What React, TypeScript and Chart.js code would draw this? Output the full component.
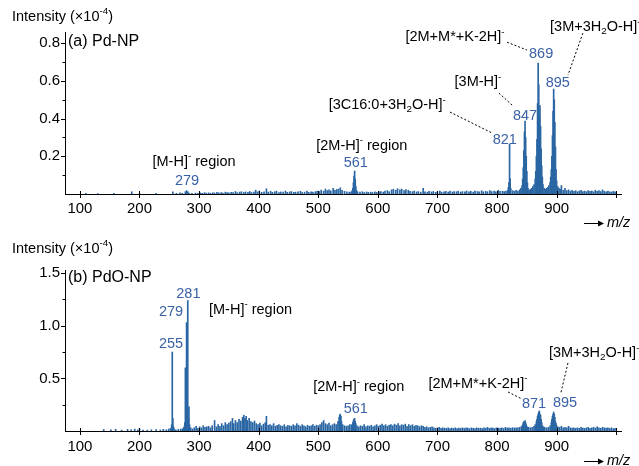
import React, { useEffect, useRef } from 'react';
import { Chart, registerables } from 'chart.js';
Chart.register(...registerables);

const FONT = "'Liberation Sans', Arial, Helvetica, sans-serif";
const BAR = '#2a66a3';
const NUM = '#3a62a6';

// ---------------- data: panel (a) Pd-NP ----------------
const mzA = [
  110, 130, 157, 187, 200, 228, 256, 262, 268, 272,
  277, 279, 281, 283, 288, 294, 298, 302, 305, 309,
  312, 316, 319, 323, 326, 330, 333, 337, 340, 344,
  347, 350, 354, 357, 361, 364, 368, 371, 375, 378,
  382, 385, 388, 392, 395, 398, 401, 405, 409, 413,
  416, 420, 423, 427, 430, 434, 437, 441, 445, 448,
  452, 455, 459, 462, 466, 470, 473, 477, 481, 484,
  488, 491, 495, 498, 502, 505, 509, 512, 515, 518,
  521, 525, 528, 531, 534, 537, 540, 544, 548, 552,
  555, 557, 558, 559, 560, 561, 562, 563, 564, 566,
  570, 574, 577, 581, 584, 588, 591, 595, 598, 602,
  605, 609, 612, 616, 619, 623, 626, 630, 633, 637,
  640, 644, 647, 651, 654, 658, 661, 665, 668, 672,
  676, 679, 683, 686, 690, 693, 697, 700, 704, 707,
  711, 714, 718, 721, 725, 728, 732, 735, 739, 742,
  746, 749, 753, 756, 760, 763, 767, 770, 774, 777,
  781, 784, 788, 791, 795, 798, 802, 805, 809, 812,
  815, 818, 819, 820, 821, 822, 823, 826, 829, 832,
  835, 838, 840, 842, 843, 844, 845, 846, 847, 848,
  849, 850, 851, 852, 854, 856, 858, 860, 862, 864,
  865, 866, 867, 868, 869, 870, 871, 872, 873, 874,
  875, 876, 877, 879, 881, 883, 885, 887, 889, 890,
  891, 892, 893, 894, 895, 896, 897, 898, 899, 900,
  902, 904, 906, 908, 911, 914, 917, 920, 923, 926,
  929, 932, 935, 938, 941, 944, 947, 950, 953, 956,
  959, 962, 965, 968, 971, 974, 977, 980, 983, 986,
  989, 992, 995, 998,
];
const intA = [
  .003, .002, .003, .012, .002, .003, .012, .004, .006, .004,
  .012, .018, .012, .005, .004, .005, .003, .006, .004, .007,
  .005, .006, .004, .007, .005, .009, .006, .008, .005, .010,
  .007, .006, .009, .008, .013, .007, .010, .012, .008, .011,
  .009, .013, .008, .010, .020, .011, .016, .009, .012, .028,
  .010, .014, .009, .012, .015, .008, .011, .010, .016, .009,
  .011, .013, .009, .010, .012, .014, .008, .010, .015, .009,
  .011, .010, .012, .016, .013, .021, .015, .026, .018, .022,
  .017, .030, .020, .024, .026, .033, .020, .014, .012, .010,
  .012, .018, .030, .060, .095, .122, .080, .040, .020, .012,
  .010, .012, .008, .011, .009, .010, .008, .012, .009, .011,
  .013, .010, .015, .018, .012, .022, .025, .020, .028, .022,
  .026, .018, .024, .020, .014, .012, .016, .011, .013, .010,
  .030, .012, .010, .014, .011, .013, .009, .012, .015, .010,
  .012, .014, .010, .016, .011, .013, .012, .015, .010, .013,
  .011, .016, .012, .014, .010, .015, .013, .011, .017, .012,
  .014, .012, .018, .013, .016, .012, .020, .014, .015, .013,
  .016, .020, .035, .060, .265, .080, .030, .018, .015, .020,
  .016, .022, .030, .045, .080, .140, .230, .330, .387, .300,
  .200, .120, .060, .030, .020, .025, .030, .040, .050, .080,
  .120, .200, .290, .480, .695, .580, .420, .470, .360, .240,
  .150, .090, .050, .030, .025, .030, .035, .045, .060, .090,
  .130, .200, .310, .440, .557, .500, .380, .250, .130, .070,
  .040, .030, .025, .045, .020, .030, .018, .022, .015, .020,
  .014, .018, .012, .016, .020, .013, .015, .012, .018, .014,
  .016, .012, .020, .014, .018, .013, .022, .015, .012, .016,
  .012, .010, .014, .011,
];

// ---------------- data: panel (b) PdO-NP ----------------
const mzB = [
  140, 152, 160, 170, 180, 186, 192, 197, 200, 206,
  213, 220, 228, 235, 240, 245, 249, 252, 254, 255,
  256, 257, 258, 261, 265, 269, 272, 274, 275, 276,
  277, 278, 279, 280, 281, 282, 283, 284, 286, 289,
  292, 295, 298, 301, 304, 307, 310, 313, 316, 319,
  322, 326, 329, 332, 335, 338, 341, 344, 347, 350,
  353, 356, 358, 361, 364, 367, 370, 373, 375, 377,
  379, 381, 384, 387, 390, 393, 396, 399, 402, 405,
  408, 411, 413, 416, 419, 422, 425, 428, 431, 434,
  437, 440, 443, 446, 449, 452, 455, 458, 461, 464,
  467, 470, 473, 476, 479, 482, 485, 488, 491, 494,
  497, 500, 503, 506, 509, 512, 515, 518, 521, 524,
  527, 530, 533, 535, 536, 537, 538, 539, 541, 544,
  547, 550, 553, 556, 558, 559, 560, 561, 562, 563,
  565, 568, 571, 574, 577, 580, 583, 586, 589, 592,
  595, 598, 601, 604, 607, 610, 613, 616, 619, 622,
  625, 628, 631, 634, 637, 640, 643, 646, 649, 652,
  655, 658, 661, 664, 667, 670, 673, 676, 679, 682,
  685, 688, 691, 694, 697, 700, 703, 706, 709, 712,
  715, 718, 721, 724, 727, 730, 733, 736, 739, 742,
  745, 748, 751, 754, 757, 760, 763, 766, 769, 772,
  775, 778, 781, 784, 787, 790, 793, 796, 799, 802,
  805, 808, 811, 814, 817, 820, 823, 826, 829, 832,
  835, 838, 841, 843, 844, 845, 846, 847, 848, 849,
  851, 853, 856, 859, 862, 864, 866, 867, 868, 869,
  870, 871, 872, 873, 874, 875, 876, 878, 880, 883,
  886, 889, 891, 892, 893, 894, 895, 896, 897, 898,
  899, 900, 902, 905, 908, 911, 914, 917, 920, 923,
  926, 929, 932, 935, 938, 941, 944, 947, 950, 953,
  956, 959, 962, 965, 968, 971, 974, 977, 980, 983,
  986, 989, 992, 995, 998,
];
const intB = [
  .014, .010, .016, .008, .015, .010, .018, .010, .020, .008,
  .008, .012, .014, .010, .016, .012, .018, .025, .060, .750,
  .120, .040, .020, .012, .015, .018, .020, .030, .040, .080,
  .600, .150, 1.030, .200, 1.240, .120, .230, .060, .030, .020,
  .030, .045, .025, .040, .030, .050, .035, .040, .045, .030,
  .050, .100, .040, .060, .045, .070, .050, .080, .060, .075,
  .090, .120, .070, .100, .080, .110, .095, .130, .150, .120,
  .140, .100, .120, .090, .080, .095, .070, .060, .075, .050,
  .065, .080, .140, .055, .060, .050, .070, .045, .055, .060,
  .050, .045, .060, .040, .055, .050, .045, .060, .050, .070,
  .055, .045, .060, .050, .040, .055, .045, .050, .060, .045,
  .055, .050, .060, .080, .100, .070, .060, .075, .050, .060,
  .070, .060, .090, .130, .150, .160, .140, .090, .060, .050,
  .045, .050, .060, .060, .080, .100, .110, .120, .090, .070,
  .050, .040, .050, .045, .060, .040, .050, .045, .055, .040,
  .050, .060, .045, .055, .065, .050, .060, .045, .055, .060,
  .050, .065, .055, .070, .050, .060, .055, .065, .045, .060,
  .050, .060, .045, .055, .050, .040, .050, .045, .035, .040,
  .030, .035, .040, .030, .025, .030, .035, .025, .030, .028,
  .025, .030, .022, .028, .025, .030, .022, .028, .025, .030,
  .025, .030, .028, .022, .030, .026, .024, .030, .026, .028,
  .024, .030, .026, .035, .025, .030, .028, .024, .030, .028,
  .026, .030, .024, .035, .028, .030, .026, .032, .028, .030,
  .030, .035, .045, .060, .080, .090, .085, .100, .080, .060,
  .040, .035, .030, .035, .045, .060, .090, .110, .140, .160,
  .180, .190, .160, .150, .110, .080, .050, .040, .035, .030,
  .035, .050, .080, .110, .140, .160, .180, .160, .130, .090,
  .070, .050, .040, .035, .045, .030, .035, .030, .045, .030,
  .028, .030, .025, .030, .025, .035, .028, .025, .030, .035,
  .025, .030, .035, .028, .040, .030, .025, .035, .030, .028,
  .030, .025, .030, .022, .025,
];

// ---------------- axes ----------------
const xTicks = [100, 200, 300, 400, 500, 600, 700, 800, 900, 1000];
const yTicksA = [0.2, 0.4, 0.6, 0.8];
const yMinorA = [0.1, 0.3, 0.5, 0.7];
const yTicksB = [0.5, 1.0, 1.5];
const yMinorB = [0.25, 0.75, 1.25];

// ---------------- drawing helpers ----------------
type Seg = [string, string?];

function segFont(size: number, kind?: string, italic?: boolean) {
  const s = kind === 'sup' || kind === 'sub' ? size * 0.68 : size;
  return `${italic ? 'italic ' : ''}${s}px ${FONT}`;
}

function drawRich(ctx: CanvasRenderingContext2D, segs: Seg[], x: number, y: number, size: number, color: string, align: string, italic = false) {
  let w = 0;
  for (const [t, k] of segs) {
    ctx.font = segFont(size, k, italic);
    w += ctx.measureText(t).width;
  }
  let cx = align === 'left' ? x : align === 'right' ? x - w : x - w / 2;
  ctx.fillStyle = color;
  ctx.textAlign = 'left';
  ctx.textBaseline = 'middle';
  for (const [t, k] of segs) {
    ctx.font = segFont(size, k, italic);
    const dy = k === 'sup' ? -size * 0.36 : k === 'sub' ? size * 0.3 : 0;
    ctx.fillText(t, cx, y + dy);
    cx += ctx.measureText(t).width;
  }
}

type Label = { t: Seg[]; mz: number; v: number; align: string; color: string; size: number };
type Leader = [number, number, number, number];
type Panel = {
  mz: number[]; ints: number[]; max: number; yTicks: number[]; yMinor: number[];
  top: number; xAxisH: number; labelPad: number;
  title: Seg[]; titleY: number; name: string; nameY: number; arrowY: number;
  labels: Label[]; leaders: Leader[];
};

const B = '#000';
const panelA: Panel = {
  mz: mzA, ints: intA, max: 0.86, yTicks: yTicksA, yMinor: yMinorA,
  top: 32, xAxisH: 39, labelPad: 6,
  title: [['Intensity (×10'], ['-4', 'sup'], [')']], titleY: 17,
  name: '(a) Pd-NP', nameY: 42, arrowY: 223,
  labels: [
    { t: [['[M-H]'], ['-', 'sup'], [' region']], mz: 291.5, v: 0.170, align: 'center', color: B, size: 14.5 },
    { t: [['279']], mz: 279.7, v: 0.069, align: 'center', color: NUM, size: 14.5 },
    { t: [['[2M-H]'], ['-', 'sup'], [' region']], mz: 573, v: 0.255, align: 'center', color: B, size: 14.5 },
    { t: [['561']], mz: 563, v: 0.164, align: 'center', color: NUM, size: 14.5 },
    { t: [['[3C16:0+3H'], ['2', 'sub'], ['O-H]'], ['-', 'sup']], mz: 714, v: 0.472, align: 'right', color: B, size: 14.5 },
    { t: [['821']], mz: 813, v: 0.286, align: 'center', color: NUM, size: 14.5 },
    { t: [['[3M-H]'], ['-', 'sup']], mz: 768, v: 0.594, align: 'center', color: B, size: 14.5 },
    { t: [['847']], mz: 847, v: 0.414, align: 'center', color: NUM, size: 14.5 },
    { t: [['[2M+M*+K-2H]'], ['-', 'sup']], mz: 729.5, v: 0.833, align: 'center', color: B, size: 14.5 },
    { t: [['869']], mz: 874, v: 0.743, align: 'center', color: NUM, size: 14.5 },
    { t: [['[3M+3H'], ['2', 'sub'], ['O-H]'], ['-', 'sup']], mz: 889, v: 0.886, align: 'left', color: B, size: 14.5 },
    { t: [['895']], mz: 902, v: 0.589, align: 'center', color: NUM, size: 14.5 },
  ],
  leaders: [
    [721, 0.435, 791.5, 0.324],
    [803, 0.536, 827, 0.467],
    [816.7, 0.806, 850.3, 0.764],
    [944, 0.854, 919, 0.631],
  ],
};

const panelB: Panel = {
  mz: mzB, ints: intB, max: 1.53, yTicks: yTicksB, yMinor: yMinorB,
  top: 37, xAxisH: 35, labelPad: 7,
  title: [['Intensity (×10'], ['-4', 'sup'], [')']], titleY: 16,
  name: '(b) PdO-NP', nameY: 45, arrowY: 228,
  labels: [
    { t: [['281']], mz: 282, v: 1.302, align: 'center', color: NUM, size: 14.5 },
    { t: [['279']], mz: 252.9, v: 1.131, align: 'center', color: NUM, size: 14.5 },
    { t: [['255']], mz: 252.9, v: 0.827, align: 'center', color: NUM, size: 14.5 },
    { t: [['[M-H]'], ['-', 'sup'], [' region']], mz: 316.6, v: 1.150, align: 'left', color: B, size: 14.5 },
    { t: [['[2M-H]'], ['-', 'sup'], [' region']], mz: 568, v: 0.418, align: 'center', color: B, size: 14.5 },
    { t: [['561']], mz: 563, v: 0.209, align: 'center', color: NUM, size: 14.5 },
    { t: [['[2M+M*+K-2H]'], ['-', 'sup']], mz: 768, v: 0.447, align: 'center', color: B, size: 14.5 },
    { t: [['871']], mz: 862, v: 0.257, align: 'center', color: NUM, size: 14.5 },
    { t: [['[3M+3H'], ['2', 'sub'], ['O-H]'], ['-', 'sup']], mz: 887, v: 0.741, align: 'left', color: B, size: 14.5 },
    { t: [['895']], mz: 914, v: 0.266, align: 'center', color: NUM, size: 14.5 },
  ],
  leaders: [
    [818.4, 0.371, 842, 0.304],
    [919, 0.646, 907, 0.361],
  ],
};

function makePlugin(P: Panel) {
  return {
    id: 'specDecor',
    afterDraw(chart: any) {
      const { ctx, chartArea: ca, scales } = chart;
      const x = scales.x, y = scales.y;
      ctx.save();
      // tick marks
      ctx.strokeStyle = '#000';
      ctx.lineWidth = 1;
      ctx.beginPath();
      for (const v of P.yTicks) {
        const py = Math.round(y.getPixelForValue(v)) + 0.5;
        ctx.moveTo(ca.left - 4, py); ctx.lineTo(ca.left, py);
      }
      for (const v of P.yMinor) {
        const py = Math.round(y.getPixelForValue(v)) + 0.5;
        ctx.moveTo(ca.left - 2.5, py); ctx.lineTo(ca.left, py);
      }
      for (const v of xTicks) {
        const px = Math.round(x.getPixelForValue(v)) + 0.5;
        ctx.moveTo(px, ca.bottom - 3); ctx.lineTo(px, ca.bottom + 4);
      }
      ctx.stroke();
      // leader lines
      ctx.setLineDash([2, 2]);
      ctx.beginPath();
      for (const [m1, v1, m2, v2] of P.leaders) {
        ctx.moveTo(x.getPixelForValue(m1), y.getPixelForValue(v1));
        ctx.lineTo(x.getPixelForValue(m2), y.getPixelForValue(v2));
      }
      ctx.stroke();
      ctx.setLineDash([]);
      // labels
      for (const L of P.labels) {
        drawRich(ctx, L.t, x.getPixelForValue(L.mz), y.getPixelForValue(L.v), L.size, L.color, L.align);
      }
      // titles
      drawRich(ctx, P.title, 12, P.titleY, 14.5, '#000', 'left');
      drawRich(ctx, [[P.name]], ca.left + 3, P.nameY, 16, '#000', 'left');
      // m/z arrow
      const ay = P.arrowY + 0.5;
      ctx.beginPath();
      ctx.moveTo(584, ay); ctx.lineTo(601, ay);
      ctx.stroke();
      ctx.fillStyle = '#000';
      ctx.beginPath();
      ctx.moveTo(604, ay); ctx.lineTo(598, ay - 3); ctx.lineTo(598, ay + 3); ctx.closePath();
      ctx.fill();
      drawRich(ctx, [['m/z']], 607, P.arrowY, 14.5, '#000', 'left', true);
      ctx.restore();
    },
  };
}

function buildChart(canvas: HTMLCanvasElement, P: Panel) {
  const points = P.mz.map((m, i) => ({ x: m, y: P.ints[i] }));
  return new Chart(canvas, {
    type: 'bar',
    data: {
      datasets: [{
        data: points as any,
        backgroundColor: BAR,
        borderWidth: 0,
        barThickness: 1,
      }],
    },
    options: {
      animation: false,
      responsive: false,
      maintainAspectRatio: false,
      layout: { padding: { left: 0, right: 18, top: P.top, bottom: 0 } },
      plugins: { legend: { display: false }, tooltip: { enabled: false } },
      scales: {
        x: {
          type: 'linear',
          min: 75,
          max: 1008,
          offset: false,
          grid: { display: false, drawTicks: false },
          border: { display: true, color: '#000', width: 1 },
          afterBuildTicks: (s: any) => { s.ticks = xTicks.map((v) => ({ value: v })); },
          afterFit: (s: any) => { s.height = P.xAxisH; },
          ticks: {
            autoSkip: false,
            maxRotation: 0,
            padding: P.labelPad,
            color: '#000',
            font: { family: FONT, size: 15 },
            callback: (v: any) => (v === 1000 ? '' : String(v)),
          },
        },
        y: {
          type: 'linear',
          min: 0,
          max: P.max,
          grid: { display: false, drawTicks: false },
          border: { display: true, color: '#000', width: 1 },
          afterBuildTicks: (s: any) => { s.ticks = P.yTicks.map((v) => ({ value: v })); },
          afterFit: (s: any) => { s.width = 65; },
          ticks: {
            padding: 5,
            color: '#000',
            font: { family: FONT, size: 15 },
            callback: (v: any) => Number(v).toFixed(1),
          },
        },
      },
    },
    plugins: [makePlugin(P)],
  } as any);
}

export default function App() {
  const refA = useRef<HTMLCanvasElement>(null);
  const refB = useRef<HTMLCanvasElement>(null);
  useEffect(() => {
    const a = buildChart(refA.current!, panelA);
    const b = buildChart(refB.current!, panelB);
    return () => { a.destroy(); b.destroy(); };
  }, []);
  return (
    <div style={{ position: 'absolute', left: 0, top: 0, width: 639, height: 466, background: '#fff' }}>
      <canvas ref={refA} width={639} height={233} style={{ position: 'absolute', left: 0, top: 0, width: 639, height: 233 }} />
      <canvas ref={refB} width={639} height={233} style={{ position: 'absolute', left: 0, top: 233, width: 639, height: 233 }} />
    </div>
  );
}
